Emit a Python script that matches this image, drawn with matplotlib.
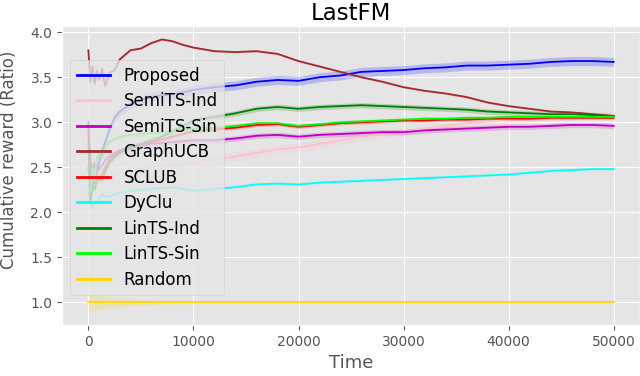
import numpy as np
import matplotlib
matplotlib.use('Agg')
import matplotlib.pyplot as plt

plt.style.use('ggplot')

# time steps
time = [0, 200, 400, 600, 800, 1000, 1300, 1600, 2000, 2500, 3000, 4000, 5000, 6000,
        7000, 8000, 9000, 10000, 12000, 14000, 16000, 18000, 20000, 22000, 24000,
        26000, 28000, 30000, 32000, 34000, 36000, 38000, 40000, 42000, 44000, 46000,
        48000, 50000]

proposed = [3.00, 2.20, 2.30, 2.35, 2.45, 2.55, 2.68, 2.78, 2.92, 3.05, 3.12, 3.20, 3.25, 3.28,
            3.30, 3.31, 3.33, 3.36, 3.39, 3.41, 3.45, 3.47, 3.46, 3.50, 3.52,
            3.56, 3.57, 3.58, 3.60, 3.61, 3.63, 3.63, 3.64, 3.65, 3.67, 3.68,
            3.68, 3.67]
semits_ind = [2.50, 2.20, 2.30, 2.25, 2.30, 2.32, 2.35, 2.38, 2.40, 2.42, 2.44, 2.46, 2.48, 2.50,
              2.51, 2.52, 2.53, 2.55, 2.58, 2.62, 2.66, 2.70, 2.72, 2.76, 2.80,
              2.84, 2.87, 2.89, 2.93, 2.96, 2.99, 3.01, 3.03, 3.05, 3.06, 3.07,
              3.08, 3.08]
semits_sin = [2.50, 2.30, 2.40, 2.35, 2.45, 2.48, 2.52, 2.58, 2.62, 2.66, 2.69, 2.72, 2.74, 2.76,
              2.77, 2.78, 2.79, 2.80, 2.80, 2.82, 2.85, 2.86, 2.84, 2.86, 2.87,
              2.88, 2.89, 2.89, 2.91, 2.92, 2.93, 2.94, 2.95, 2.95, 2.96, 2.97,
              2.97, 2.96]
graphucb = [3.80, 3.45, 3.62, 3.42, 3.58, 3.47, 3.60, 3.40, 3.55, 3.58, 3.70, 3.80, 3.82, 3.88,
            3.92, 3.90, 3.86, 3.83, 3.79, 3.78, 3.79, 3.76, 3.68, 3.62, 3.56,
            3.50, 3.45, 3.39, 3.35, 3.32, 3.28, 3.22, 3.18, 3.15, 3.12, 3.11,
            3.09, 3.07]
sclub = [2.90, 2.60, 2.45, 2.55, 2.40, 2.36, 2.42, 2.50, 2.58, 2.64, 2.68, 2.72, 2.75, 2.78,
         2.81, 2.84, 2.87, 2.90, 2.92, 2.94, 2.97, 2.98, 2.95, 2.97, 2.99,
         3.00, 3.01, 3.02, 3.02, 3.03, 3.03, 3.04, 3.04, 3.04, 3.05, 3.05,
         3.05, 3.05]
dyclu = [2.30, 2.10, 2.05, 2.12, 2.10, 2.15, 2.20, 2.18, 2.17, 2.20, 2.22, 2.24, 2.25, 2.26,
         2.27, 2.28, 2.26, 2.24, 2.26, 2.28, 2.31, 2.32, 2.31, 2.33, 2.34,
         2.35, 2.36, 2.37, 2.38, 2.39, 2.40, 2.41, 2.42, 2.44, 2.46, 2.47,
         2.48, 2.48]
lints_ind = [2.80, 2.10, 2.30, 2.25, 2.35, 2.40, 2.35, 2.45, 2.55, 2.62, 2.66, 2.72, 2.76, 2.80,
             2.84, 2.90, 2.96, 3.02, 3.06, 3.10, 3.15, 3.17, 3.15, 3.17, 3.18,
             3.19, 3.18, 3.17, 3.16, 3.15, 3.14, 3.12, 3.11, 3.10, 3.09, 3.09,
             3.08, 3.07]
lints_sin = [2.20, 2.25, 2.50, 2.35, 2.60, 2.65, 2.60, 2.72, 2.78, 2.82, 2.84, 2.86, 2.87, 2.88,
             2.89, 2.90, 2.91, 2.93, 2.94, 2.96, 2.99, 2.99, 2.96, 2.98, 3.00,
             3.01, 3.02, 3.03, 3.04, 3.04, 3.05, 3.05, 3.06, 3.06, 3.06, 3.06,
             3.06, 3.06]
random_ = [1.00] * len(time)

# half width of the shaded band for each method
band = {'Proposed': 0.05, 'SemiTS-Ind': 0.05, 'SemiTS-Sin': 0.03, 'GraphUCB': 0.01,
        'SCLUB': 0.02, 'DyClu': 0.01, 'LinTS-Ind': 0.03, 'LinTS-Sin': 0.02}
random_band = [0.12, 0.10, 0.09, 0.09, 0.08, 0.08, 0.07, 0.07, 0.06, 0.05, 0.05, 0.04, 0.03, 0.03,
               0.02, 0.02, 0.02, 0.01, 0.01, 0.01, 0.01, 0.01, 0.01, 0.01, 0.01,
               0.01, 0.01, 0.01, 0.01, 0.01, 0.01, 0.01, 0.01, 0.01, 0.01, 0.01,
               0.01, 0.01]

series = [
    ('Proposed', proposed, 'blue'),
    ('SemiTS-Ind', semits_ind, 'pink'),
    ('SemiTS-Sin', semits_sin, 'm'),
    ('GraphUCB', graphucb, 'brown'),
    ('SCLUB', sclub, 'red'),
    ('DyClu', dyclu, 'cyan'),
    ('LinTS-Ind', lints_ind, 'green'),
    ('LinTS-Sin', lints_sin, 'lime'),
    ('Random', random_, 'gold'),
]

fig = plt.figure(figsize=(6.4, 3.76), dpi=100)
ax = fig.add_axes([0.097, 0.136, 0.903, 0.795])

t = np.array(time)
for name, values, color in series:
    y = np.array(values)
    if name == 'Random':
        w = np.array(random_band)
    else:
        w = band[name]
    ax.fill_between(t, y - w, y + w, color=color, alpha=0.2, linewidth=0)
    ax.plot(t, y, color=color, linewidth=1.3, label=name)

ax.set_xlim(-2500, 52500)
ax.set_ylim(0.75, 4.07)
ax.set_xticks([0, 10000, 20000, 30000, 40000, 50000])
ax.set_yticks([1.0, 1.5, 2.0, 2.5, 3.0, 3.5, 4.0])
ax.set_xlabel('Time', fontsize=13)
ax.set_ylabel('Cumulative reward (Ratio)')
ax.yaxis.set_label_coords(-0.076, 0.552)
ax.set_title('LastFM', fontsize=16.5, pad=4)

leg = ax.legend(loc='upper left', bbox_to_anchor=(0.014, 0.886), borderaxespad=0,
                fontsize=12, labelspacing=0.45)
for line in leg.get_lines():
    line.set_linewidth(2)

fig.savefig('out.png', dpi=100)
